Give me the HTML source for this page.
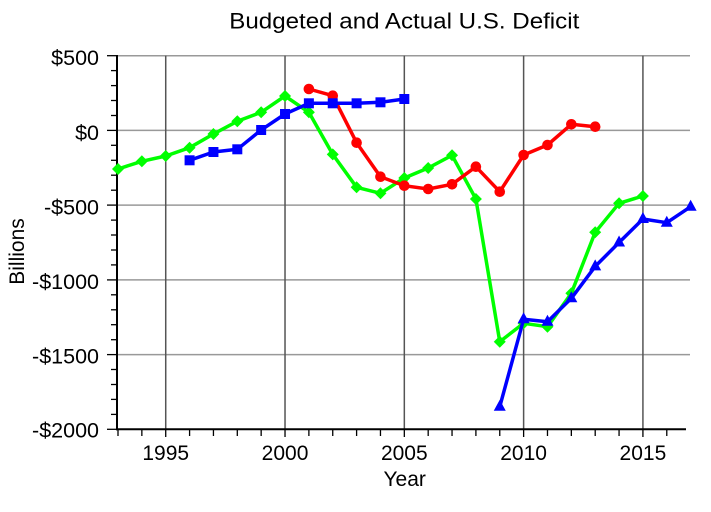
<!DOCTYPE html>
<html><head><meta charset="utf-8"><style>
html,body{margin:0;padding:0;background:#fff;}
svg{display:block;}
text{font-family:"Liberation Sans",Arial,sans-serif;fill:#000;}
</style></head><body>
<svg width="711" height="512" viewBox="0 0 711 512" xmlns="http://www.w3.org/2000/svg">
<rect width="711" height="512" fill="#fff"/>
<text x="404.3" y="28.5" font-size="22.5" text-anchor="middle" textLength="350" lengthAdjust="spacingAndGlyphs">Budgeted and Actual U.S. Deficit</text>

<!-- horizontal grid -->
<g stroke="#999" stroke-width="1.5">
<line x1="117" y1="55.7" x2="690" y2="55.7"/>
<line x1="117" y1="130.4" x2="690" y2="130.4"/>
<line x1="117" y1="205.1" x2="690" y2="205.1"/>
<line x1="117" y1="279.9" x2="690" y2="279.9"/>
<line x1="117" y1="354.6" x2="690" y2="354.6"/>
</g>
<!-- vertical grid -->
<g stroke="#555" stroke-width="1.5">
<line x1="165.72" y1="55.7" x2="165.72" y2="429.3"/>
<line x1="285.02" y1="55.7" x2="285.02" y2="429.3"/>
<line x1="404.32" y1="55.7" x2="404.32" y2="429.3"/>
<line x1="523.62" y1="55.7" x2="523.62" y2="429.3"/>
<line x1="642.92" y1="55.7" x2="642.92" y2="429.3"/>
</g>

<!-- axes -->
<g stroke="#000" stroke-width="2">
<line x1="117" y1="55" x2="117" y2="430.3"/>
<line x1="116" y1="429.3" x2="686" y2="429.3"/>
</g>
<!-- y ticks -->
<g stroke="#000" stroke-width="1.3">
<line x1="107" y1="55.7" x2="117" y2="55.7"/>
<line x1="107" y1="130.4" x2="117" y2="130.4"/>
<line x1="107" y1="205.1" x2="117" y2="205.1"/>
<line x1="107" y1="279.9" x2="117" y2="279.9"/>
<line x1="107" y1="354.6" x2="117" y2="354.6"/>
<line x1="107" y1="429.3" x2="117" y2="429.3"/>
<line x1="111" y1="70.6" x2="117" y2="70.6"/>
<line x1="111" y1="85.6" x2="117" y2="85.6"/>
<line x1="111" y1="100.5" x2="117" y2="100.5"/>
<line x1="111" y1="115.5" x2="117" y2="115.5"/>
<line x1="111" y1="145.3" x2="117" y2="145.3"/>
<line x1="111" y1="160.3" x2="117" y2="160.3"/>
<line x1="111" y1="175.2" x2="117" y2="175.2"/>
<line x1="111" y1="190.2" x2="117" y2="190.2"/>
<line x1="111" y1="220.1" x2="117" y2="220.1"/>
<line x1="111" y1="235.0" x2="117" y2="235.0"/>
<line x1="111" y1="250.0" x2="117" y2="250.0"/>
<line x1="111" y1="264.9" x2="117" y2="264.9"/>
<line x1="111" y1="294.8" x2="117" y2="294.8"/>
<line x1="111" y1="309.8" x2="117" y2="309.8"/>
<line x1="111" y1="324.7" x2="117" y2="324.7"/>
<line x1="111" y1="339.7" x2="117" y2="339.7"/>
<line x1="111" y1="369.5" x2="117" y2="369.5"/>
<line x1="111" y1="384.5" x2="117" y2="384.5"/>
<line x1="111" y1="399.4" x2="117" y2="399.4"/>
<line x1="111" y1="414.4" x2="117" y2="414.4"/>
</g>
<!-- x ticks -->
<g stroke="#000" stroke-width="1.3">
<line x1="118" y1="429.3" x2="118" y2="436"/>
<line x1="141.86" y1="429.3" x2="141.86" y2="436"/>
<line x1="165.72" y1="429.3" x2="165.72" y2="437"/>
<line x1="189.58" y1="429.3" x2="189.58" y2="436"/>
<line x1="213.44" y1="429.3" x2="213.44" y2="436"/>
<line x1="237.3" y1="429.3" x2="237.3" y2="436"/>
<line x1="261.16" y1="429.3" x2="261.16" y2="436"/>
<line x1="285.02" y1="429.3" x2="285.02" y2="437"/>
<line x1="308.88" y1="429.3" x2="308.88" y2="436"/>
<line x1="332.74" y1="429.3" x2="332.74" y2="436"/>
<line x1="356.6" y1="429.3" x2="356.6" y2="436"/>
<line x1="380.46" y1="429.3" x2="380.46" y2="436"/>
<line x1="404.32" y1="429.3" x2="404.32" y2="437"/>
<line x1="428.18" y1="429.3" x2="428.18" y2="436"/>
<line x1="452.04" y1="429.3" x2="452.04" y2="436"/>
<line x1="475.9" y1="429.3" x2="475.9" y2="436"/>
<line x1="499.76" y1="429.3" x2="499.76" y2="436"/>
<line x1="523.62" y1="429.3" x2="523.62" y2="437"/>
<line x1="547.48" y1="429.3" x2="547.48" y2="436"/>
<line x1="571.34" y1="429.3" x2="571.34" y2="436"/>
<line x1="595.2" y1="429.3" x2="595.2" y2="436"/>
<line x1="619.06" y1="429.3" x2="619.06" y2="436"/>
<line x1="642.92" y1="429.3" x2="642.92" y2="437"/>
<line x1="666.78" y1="429.3" x2="666.78" y2="436"/>
</g>

<!-- y labels -->
<g font-size="21.5" text-anchor="end">
<text x="99" y="65.2">$500</text>
<text x="99" y="140">$0</text>
<text x="99" y="214.5">-$500</text>
<text x="99" y="289">-$1000</text>
<text x="99" y="363.5">-$1500</text>
<text x="99" y="437.5">-$2000</text>
</g>
<!-- x labels -->
<g font-size="21" text-anchor="middle">
<text x="165.72" y="460">1995</text>
<text x="285.02" y="460">2000</text>
<text x="404.32" y="460">2005</text>
<text x="523.62" y="460">2010</text>
<text x="642.92" y="460">2015</text>
</g>
<text x="404.7" y="486" font-size="21" text-anchor="middle">Year</text>
<text transform="translate(24,251.5) rotate(-90)" font-size="21" text-anchor="middle">Billions</text>

<!-- green actual -->
<g>
<polyline fill="none" stroke="#00ff00" stroke-width="3.5" stroke-linejoin="round" points="118,169 141.86,161.3 165.72,156 189.58,147.7 213.44,134 237.3,121.3 261.16,112.3 285.02,96 308.88,112.3 332.74,154.4 356.6,187.3 380.46,193.3 404.32,178 428.18,168 452.04,155.3 475.9,199 499.76,341.7 523.62,323.3 547.48,326.7 571.34,293.3 595.2,232.3 619.06,203.3 642.92,196"/>
<g fill="#00ff00">
<path d="M118,163 l6,6 l-6,6 l-6,-6z"/>
<path d="M141.86,155.3 l6,6 l-6,6 l-6,-6z"/>
<path d="M165.72,150 l6,6 l-6,6 l-6,-6z"/>
<path d="M189.58,141.7 l6,6 l-6,6 l-6,-6z"/>
<path d="M213.44,128 l6,6 l-6,6 l-6,-6z"/>
<path d="M237.3,115.3 l6,6 l-6,6 l-6,-6z"/>
<path d="M261.16,106.3 l6,6 l-6,6 l-6,-6z"/>
<path d="M285.02,90 l6,6 l-6,6 l-6,-6z"/>
<path d="M308.88,106.3 l6,6 l-6,6 l-6,-6z"/>
<path d="M332.74,148.4 l6,6 l-6,6 l-6,-6z"/>
<path d="M356.6,181.3 l6,6 l-6,6 l-6,-6z"/>
<path d="M380.46,187.3 l6,6 l-6,6 l-6,-6z"/>
<path d="M404.32,172 l6,6 l-6,6 l-6,-6z"/>
<path d="M428.18,162 l6,6 l-6,6 l-6,-6z"/>
<path d="M452.04,149.3 l6,6 l-6,6 l-6,-6z"/>
<path d="M475.9,193 l6,6 l-6,6 l-6,-6z"/>
<path d="M499.76,335.7 l6,6 l-6,6 l-6,-6z"/>
<path d="M523.62,317.3 l6,6 l-6,6 l-6,-6z"/>
<path d="M547.48,320.7 l6,6 l-6,6 l-6,-6z"/>
<path d="M571.34,287.3 l6,6 l-6,6 l-6,-6z"/>
<path d="M595.2,226.3 l6,6 l-6,6 l-6,-6z"/>
<path d="M619.06,197.3 l6,6 l-6,6 l-6,-6z"/>
<path d="M642.92,190 l6,6 l-6,6 l-6,-6z"/>
</g>
</g>

<!-- red -->
<g>
<polyline fill="none" stroke="#ff0000" stroke-width="3.5" stroke-linejoin="round" points="308.88,89 332.74,95.7 356.6,142.7 380.46,176.7 404.32,185.7 428.18,189 452.04,184.3 475.9,166.7 499.76,191.7 523.62,155 547.48,145 571.34,124.3 595.2,126.7"/>
<g fill="#ff0000">
<circle cx="308.88" cy="89" r="5.3"/>
<circle cx="332.74" cy="95.7" r="5.3"/>
<circle cx="356.6" cy="142.7" r="5.3"/>
<circle cx="380.46" cy="176.7" r="5.3"/>
<circle cx="404.32" cy="185.7" r="5.3"/>
<circle cx="428.18" cy="189" r="5.3"/>
<circle cx="452.04" cy="184.3" r="5.3"/>
<circle cx="475.9" cy="166.7" r="5.3"/>
<circle cx="499.76" cy="191.7" r="5.3"/>
<circle cx="523.62" cy="155" r="5.3"/>
<circle cx="547.48" cy="145" r="5.3"/>
<circle cx="571.34" cy="124.3" r="5.3"/>
<circle cx="595.2" cy="126.7" r="5.3"/>
</g>
</g>

<!-- blue squares -->
<g>
<polyline fill="none" stroke="#0000ff" stroke-width="3.5" stroke-linejoin="round" points="189.58,160.3 213.44,152 237.3,149.3 261.16,130 285.02,114 308.88,103.3 332.74,103.3 356.6,103.3 380.46,102.3 404.32,99"/>
<g fill="#0000ff">
<rect x="184.58" y="155.3" width="10" height="10"/>
<rect x="208.44" y="147" width="10" height="10"/>
<rect x="232.3" y="144.3" width="10" height="10"/>
<rect x="256.16" y="125" width="10" height="10"/>
<rect x="280.02" y="109" width="10" height="10"/>
<rect x="303.88" y="98.3" width="10" height="10"/>
<rect x="327.74" y="98.3" width="10" height="10"/>
<rect x="351.6" y="98.3" width="10" height="10"/>
<rect x="375.46" y="97.3" width="10" height="10"/>
<rect x="399.32" y="94" width="10" height="10"/>
</g>
</g>

<!-- blue triangles -->
<g>
<polyline fill="none" stroke="#0000ff" stroke-width="3.5" stroke-linejoin="round" points="499.76,406.7 523.62,319.3 547.48,321.7 571.34,298.3 595.2,266.4 619.06,242.5 642.92,219 666.78,222.7 690.64,206.7"/>
<g fill="#0000ff">
<path d="M499.76,399.7 l6,11 l-12,0z"/>
<path d="M523.62,312.3 l6,11 l-12,0z"/>
<path d="M547.48,314.7 l6,11 l-12,0z"/>
<path d="M571.34,291.3 l6,11 l-12,0z"/>
<path d="M595.2,259.4 l6,11 l-12,0z"/>
<path d="M619.06,235.5 l6,11 l-12,0z"/>
<path d="M642.92,212 l6,11 l-12,0z"/>
<path d="M666.78,215.7 l6,11 l-12,0z"/>
<path d="M690.64,199.7 l6,11 l-12,0z"/>
</g>
</g>
</svg>
</body></html>
